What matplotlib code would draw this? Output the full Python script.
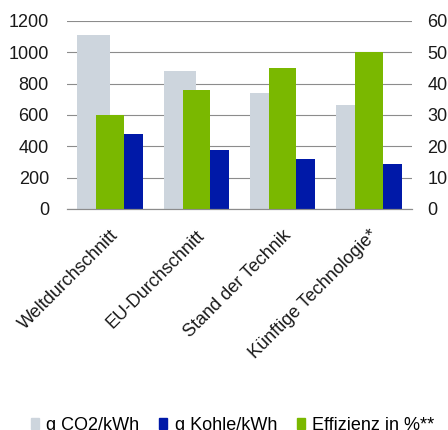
import numpy as np
import matplotlib
matplotlib.use('Agg')
import matplotlib.pyplot as plt
from matplotlib.patches import Patch

plt.rcParams['font.family'] = ['Liberation Sans', 'DejaVu Sans']

categories = ['Weltdurchschnitt', 'EU-Durchschnitt', 'Stand der Technik', 'Künftige Technologie*']
co2 = [1112, 878, 740, 665]        # g CO2/kWh (left axis)
kohle = [478, 378, 318, 286]       # g Kohle/kWh (left axis)
effizienz = [30, 38, 45, 50]       # Effizienz in % (right axis)

c_gray = '#cdd5dd'
c_blue = '#0019a8'
c_green = '#7ab800'
c_grid = '#8c8c8c'

fig = plt.figure(figsize=(4.48, 4.30), dpi=100)
ax = fig.add_axes([67/448, 1-209/430, 345/448, 188/430])
ax2 = ax.twinx()

x = np.arange(len(categories))
w = 0.38
ax.bar(x - w/2, co2, w, color=c_gray, zorder=2)
ax.bar(x + w/2, kohle, w, color=c_blue, zorder=2)
ax2.bar(x, effizienz, 0.32, color=c_green, zorder=2)

ax.set_xlim(-0.5, 3.5)
ax.set_ylim(0, 1200)
ax.set_yticks(np.arange(0, 1201, 200))
ax2.set_ylim(0, 60)
ax2.set_yticks(np.arange(0, 61, 10))

ax.yaxis.grid(True, color=c_grid, linewidth=0.8, zorder=0)
ax.set_axisbelow(True)
for a in (ax, ax2):
    for s in ('top', 'left', 'right'):
        a.spines[s].set_visible(False)
    a.spines['bottom'].set_color(c_grid)
    a.spines['bottom'].set_linewidth(0.8)
    a.tick_params(length=0, labelsize=13, colors='#1a1a1a')
ax.tick_params(axis='y', pad=13)
ax2.tick_params(axis='y', pad=11)

ax.set_xticks(x)
ax.set_xticklabels(categories, rotation=45, ha='right', rotation_mode='anchor', fontsize=13)
ax.tick_params(axis='x', pad=13)

handles = [Patch(color=c_gray), Patch(color=c_blue), Patch(color=c_green)]
labels = ['g CO2/kWh', 'g Kohle/kWh', 'Effizienz in %**']
fig.legend(handles, labels, ncol=3, loc='lower left', bbox_to_anchor=(31/448, -0.009),
           frameon=False, fontsize=13, handlelength=0.45, handleheight=0.55,
           handletextpad=0.4, columnspacing=1.1, borderpad=0, borderaxespad=0)

fig.savefig('out.png', dpi=100)
